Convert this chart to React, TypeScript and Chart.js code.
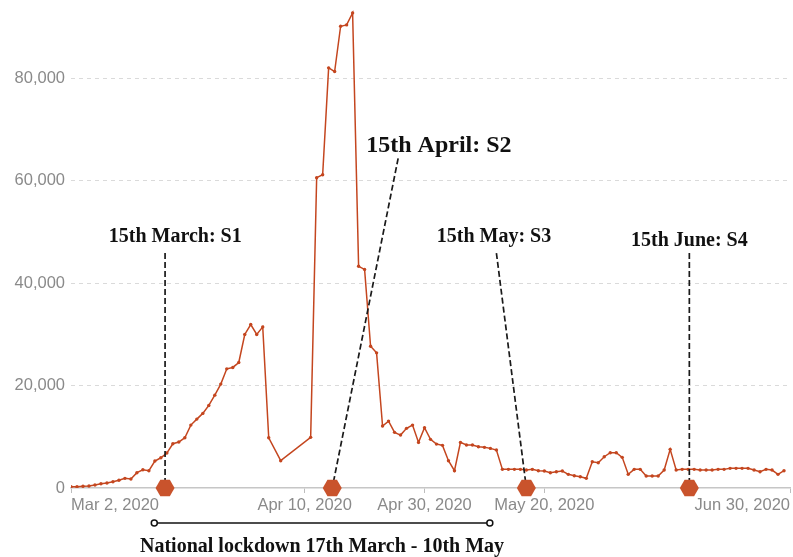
import React, { useEffect, useRef } from 'react';
import { Chart, registerables } from 'chart.js';

Chart.register(...registerables);

// ---- data (day index 0 = 2 March 2020; null = no report that day) ----
const START_DATE = '2020-03-02';
const dailyValues: (number | null)[] = [
  250, 250, 330, 390, 590, 840, 980, 1230, 1500, 1890,
  1760, 2990, 3570, 3380, 5270, 5910, 6830, 8650, 8980, 9820,
  12290, 13460, 14570, 16130, 18140, 20300, 23280, 23550, 24520, 29990,
  31940, 29990, 31470, 9810, null, 5330, null, null, null, null,
  9890, 60620, 61200, 82080, 81360, 90200, 90470, 92810, 43310, 42700,
  27700, 26400, 12100, 13070, 10870, 10340, 11650, 12290, 8910, 11770,
  9500, 8580, 8330, 5330, 3380, 8910, 8390, 8390, 8060, 7940,
  7740, 7410, 3640, 3640, 3640, 3640, 3510, 3640, 3380, 3320,
  2990, 3180, 3320, 2670, 2400, 2210, 1890, 5130, 4940, 6110,
  6890, 6890, 5990, 2670, 3640, 3640, 2340, 2340, 2340, 3510,
  7550, 3510, 3640, 3640, 3640, 3510, 3510, 3510, 3640, 3640,
  3840, 3840, 3840, 3840, 3510, 3180, 3640, 3510, 2670, 3380,
];

const yTickValues = [0, 20000, 40000, 60000, 80000];
const xTickDays = [0, 39, 59, 79, 120];
const xTickLabels = ['Mar 2, 2020', 'Apr 10, 2020', 'Apr 30, 2020', 'May 20, 2020', 'Jun 30, 2020'];
const stageLabels = ['15th March: S1', '15th April: S2', '15th May: S3', '15th June: S4'];
const lockdownLabel = 'National lockdown 17th March - 10th May';

// ---- annotation placement (in axis units: day index, value) ----
const stageLayout = [
  { markerDay: 15.7, lineTop: [15.7, 45900], label: [17.4, 49060], size: 20 },
  { markerDay: 43.6, lineTop: [54.6, 64400], label: [61.4, 66770], size: 24 },
  { markerDay: 76.0, lineTop: [71.0, 45900], label: [70.6, 49060], size: 20 },
  { markerDay: 103.2, lineTop: [103.2, 45900], label: [103.2, 48280], size: 20 },
];
const lockdownSpanDays = [13.9, 69.9];

const LINE_COLOR = '#c4461f';
const MARKER_COLOR = '#c9532c';
const TICK_COLOR = '#8a8a8a';
const SANS = '"Liberation Sans", Arial, sans-serif';
const SERIF = '"Liberation Serif", "Times New Roman", serif';

const fmt = (v: number) => String(Math.round(v)).replace(/\B(?=(\d{3})+(?!\d))/g, ',');

const annotationPlugin = {
  id: 'stageAnnotations',
  afterDraw(chart: any) {
    const { ctx, scales } = chart;
    const xs = scales.x;
    const ys = scales.y;
    const base = ys.getPixelForValue(0);
    ctx.save();

    // dashed leader lines
    ctx.setLineDash([6, 3]);
    ctx.strokeStyle = '#1a1a1a';
    ctx.lineWidth = 1.7;
    stageLayout.forEach((s) => {
      ctx.beginPath();
      ctx.moveTo(xs.getPixelForValue(s.lineTop[0]), ys.getPixelForValue(s.lineTop[1]));
      ctx.lineTo(xs.getPixelForValue(s.markerDay), base);
      ctx.stroke();
    });
    ctx.setLineDash([]);

    // hexagon markers
    const R = 9.5;
    ctx.fillStyle = MARKER_COLOR;
    stageLayout.forEach((s) => {
      const cx = xs.getPixelForValue(s.markerDay);
      ctx.beginPath();
      for (let k = 0; k < 6; k++) {
        const a = (Math.PI / 3) * k;
        const px = cx + R * Math.cos(a);
        const py = base + R * Math.sin(a);
        if (k === 0) ctx.moveTo(px, py);
        else ctx.lineTo(px, py);
      }
      ctx.closePath();
      ctx.fill();
    });

    // stage labels
    ctx.fillStyle = '#111';
    ctx.textAlign = 'center';
    ctx.textBaseline = 'middle';
    stageLabels.forEach((t, i) => {
      const s = stageLayout[i];
      ctx.font = `bold ${s.size}px ${SERIF}`;
      ctx.fillText(t, xs.getPixelForValue(s.label[0]), ys.getPixelForValue(s.label[1]));
    });

    // lockdown bracket
    const lx1 = xs.getPixelForValue(lockdownSpanDays[0]);
    const lx2 = xs.getPixelForValue(lockdownSpanDays[1]);
    const ly = base + 35;
    ctx.strokeStyle = '#111';
    ctx.lineWidth = 1.5;
    ctx.beginPath();
    ctx.moveTo(lx1, ly);
    ctx.lineTo(lx2, ly);
    ctx.stroke();
    ctx.fillStyle = '#fff';
    [lx1, lx2].forEach((px) => {
      ctx.beginPath();
      ctx.arc(px, ly, 3, 0, Math.PI * 2);
      ctx.fill();
      ctx.stroke();
    });
    ctx.fillStyle = '#111';
    ctx.font = `bold 20px ${SERIF}`;
    ctx.fillText(lockdownLabel, (lx1 + lx2) / 2, base + 59);

    ctx.restore();
  },
};

export default function App() {
  const ref = useRef<HTMLCanvasElement>(null);

  useEffect(() => {
    const canvas = ref.current;
    if (!canvas) return;
    const points = dailyValues.map((v, i) => ({ x: i, y: v }));
    const chart = new Chart(canvas, {
      type: 'line',
      data: {
        datasets: [
          {
            label: `Daily count from ${START_DATE}`,
            data: points as any,
            borderColor: LINE_COLOR,
            backgroundColor: LINE_COLOR,
            borderWidth: 1.5,
            pointRadius: 1.7,
            pointHoverRadius: 1.7,
            pointBorderWidth: 0,
            spanGaps: true,
            tension: 0,
          },
        ],
      },
      options: {
        responsive: false,
        animation: false,
        layout: { padding: { top: 0, right: 3, bottom: 0, left: 0 } },
        plugins: {
          legend: { display: false },
          tooltip: { enabled: false },
        },
        scales: {
          x: {
            type: 'linear',
            min: 0,
            max: 120,
            afterBuildTicks: (s: any) => {
              s.ticks = xTickDays.map((v) => ({ value: v }));
            },
            afterFit: (s: any) => {
              s.height = 69;
              s.paddingLeft = 0;
              s.paddingRight = 0;
            },
            ticks: {
              autoSkip: false,
              maxRotation: 0,
              minRotation: 0,
              align: 'inner',
              padding: 3,
              color: TICK_COLOR,
              font: { family: SANS, size: 16.5 },
              callback: (_v: any, i: number) => xTickLabels[i] ?? '',
            },
            grid: {
              drawOnChartArea: false,
              drawTicks: true,
              tickLength: 5,
              color: '#bdbdbd',
            },
            border: { display: true, color: '#c6c6c6', width: 1.5 },
          },
          y: {
            type: 'linear',
            min: 0,
            max: 95000,
            afterBuildTicks: (s: any) => {
              s.ticks = yTickValues.map((v) => ({ value: v }));
            },
            afterFit: (s: any) => {
              s.width = 71;
              s.paddingTop = 0;
              s.paddingBottom = 0;
            },
            ticks: {
              padding: 6,
              color: TICK_COLOR,
              font: { family: SANS, size: 16.5 },
              callback: (v: any) => fmt(Number(v)),
            },
            grid: {
              drawTicks: false,
              lineWidth: 1,
              color: (c: any) => (c.tick && c.tick.value === 0 ? 'rgba(0,0,0,0)' : '#dadada'),
            },
            border: { display: false, dash: [4, 4] },
          },
        },
      },
      plugins: [annotationPlugin],
    });
    return () => chart.destroy();
  }, []);

  return (
    <div style={{ position: 'fixed', left: 0, top: 0, width: 793, height: 557, background: '#fff' }}>
      <canvas ref={ref} width={793} height={557} style={{ width: 793, height: 557, display: 'block' }} />
    </div>
  );
}
